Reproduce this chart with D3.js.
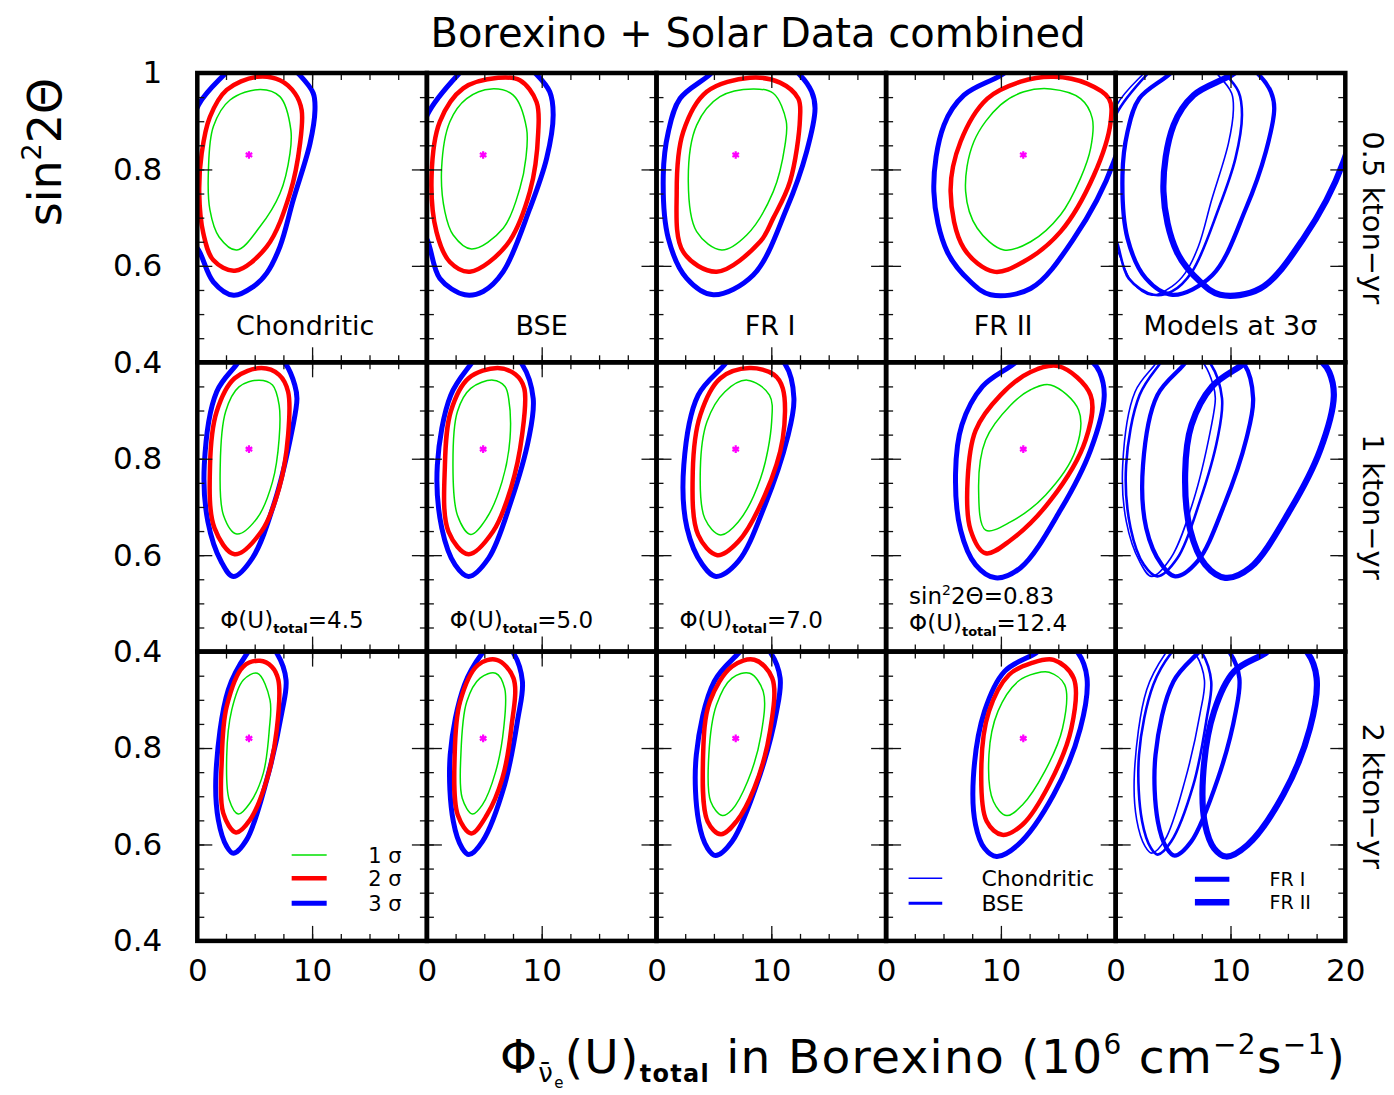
<!DOCTYPE html>
<html><head><meta charset="utf-8">
<script src="https://cdn.jsdelivr.net/npm/d3@7"></script>
<style>body{margin:0;background:#fff} svg{display:block} text{font-family:"DejaVu Sans",sans-serif;fill:#000}</style>
</head><body><svg id="c" width="1394" height="1095"></svg>
<script>
// ---------------- data ----------------
const models = ["Chondritic","BSE","FR I","FR II"];
const exposures = ["0.5 kton\u2212yr","1 kton\u2212yr","2 kton\u2212yr"];
const fluxTotal = ["4.5","5.0","7.0","12.4"];
const bestSin2 = "0.83";
const sigmaLabels = ["1 \u03c3","2 \u03c3","3 \u03c3"];
const xTickLabels = [0,10,20];
const yTickLabels = [0.4,0.6,0.8,1];
const bestFitX = [4.5,4.9,6.9,11.95];
const bestFitY = [0.83,0.82,0.82];

// contours [flux, sin^2 2theta] for Chondritic, BSE, FR I, FR II
const sigma1_05 = [
 [[5.5,0.966],[7.2,0.951],[8.15,0.882],[8.07,0.833],[7.2,0.75],[5.45,0.681],[3.45,0.633],[1.9,0.66],[1.1,0.716],[0.97,0.799],[1.4,0.889],[2.85,0.944]],
 [[5.63,0.967],[7.52,0.954],[8.68,0.885],[8.62,0.823],[8.1,0.761],[6.65,0.678],[3.89,0.635],[2.29,0.664],[1.57,0.712],[1.28,0.802],[2.0,0.899],[3.46,0.947]],
 [[8.43,0.967],[10.17,0.958],[11.3,0.9],[11.19,0.85],[10.17,0.754],[7.86,0.664],[5.68,0.633],[3.5,0.671],[2.77,0.775],[3.5,0.892],[5.53,0.951]],
 [[14.33,0.967],[16.94,0.947],[17.96,0.906],[17.82,0.844],[16.94,0.782],[15.2,0.706],[12.59,0.65],[10.26,0.633],[7.94,0.678],[6.93,0.754],[7.65,0.858],[9.97,0.934],[12.0,0.961]]
];
const sigma2_05 = [
 [[5.17,0.992],[7.2,0.985],[8.5,0.958],[9.09,0.923],[8.95,0.854],[8.08,0.751],[6.05,0.64],[3.28,0.59],[1.39,0.612],[0.52,0.668],[0.17,0.75],[0.38,0.833],[1.1,0.909],[2.56,0.965]],
 [[6.21,0.99],[8.1,0.985],[9.55,0.94],[9.7,0.878],[8.97,0.754],[6.94,0.643],[3.75,0.588],[2.0,0.608],[0.84,0.67],[0.41,0.788],[1.13,0.899],[3.16,0.968]],
 [[8.14,0.99],[10.76,0.98],[12.35,0.947],[12.5,0.906],[11.63,0.775],[10.17,0.699],[9.02,0.65],[5.24,0.588],[2.33,0.629],[1.76,0.754],[2.33,0.878],[4.37,0.961]],
 [[14.62,0.992],[17.5,0.978],[19.41,0.947],[19.56,0.899],[18.1,0.788],[15.2,0.671],[12.0,0.609],[9.39,0.588],[6.78,0.636],[5.62,0.754],[6.49,0.858],[8.82,0.947],[11.72,0.982]]
];
const sigma3_05 = [
 [[2.44,0.999],[0.11,0.934],[-1.0,0.84],[-1.3,0.75],[-0.8,0.66],[0.11,0.633],[1.39,0.567],[3.16,0.539],[4.88,0.557],[6.05,0.585],[7.2,0.64],[8.36,0.737],[9.82,0.854],[10.25,0.923],[10.1,0.958],[8.95,0.995],[6.5,1.045],[4.5,1.045]],
 [[2.73,0.997],[0.03,0.913],[-0.9,0.82],[-1.1,0.74],[-0.5,0.67],[0.03,0.654],[1.13,0.574],[3.31,0.54],[4.9,0.547],[6.65,0.588],[8.97,0.719],[10.43,0.823],[11.0,0.913],[10.7,0.961],[9.55,0.997],[7.0,1.045],[5.0,1.045]],
 [[4.66,0.997],[2.05,0.947],[1.03,0.878],[0.59,0.788],[1.03,0.657],[2.63,0.574],[4.95,0.54],[8.43,0.581],[11.34,0.719],[13.08,0.837],[13.81,0.927],[13.52,0.961],[12.5,0.996],[9.5,1.05],[6.5,1.04]],
 [[10.12,0.997],[6.78,0.954],[5.04,0.892],[4.16,0.754],[5.33,0.629],[7.36,0.567],[9.1,0.54],[12.59,0.553],[16.36,0.657],[19.84,0.816],[21.0,0.94],[20.0,1.01],[16.0,1.06],[12.5,1.04]]
];
const sigma1_1 = [
 [[5.38,0.963],[6.55,0.953],[7.13,0.911],[7.13,0.842],[6.55,0.752],[5.19,0.676],[3.44,0.644],[2.28,0.683],[2.0,0.787],[2.47,0.898],[3.63,0.949]],
 [[5.76,0.963],[6.8,0.95],[7.12,0.925],[7.24,0.842],[6.54,0.752],[5.18,0.676],[3.82,0.643],[2.66,0.683],[2.27,0.787],[2.66,0.898],[3.82,0.946]],
 [[7.9,0.963],[9.84,0.932],[10.03,0.877],[9.06,0.759],[7.12,0.669],[5.57,0.642],[4.21,0.676],[3.82,0.78],[4.4,0.877],[5.96,0.939]],
 [[14.33,0.953],[16.77,0.901],[16.51,0.818],[13.9,0.725],[10.84,0.669],[8.67,0.652],[8.06,0.735],[8.67,0.839],[10.84,0.911],[12.59,0.943]]
];
const sigma2_1 = [
 [[5.58,0.988],[7.13,0.974],[7.91,0.939],[7.91,0.849],[7.13,0.739],[5.58,0.649],[3.25,0.602],[1.5,0.656],[1.11,0.787],[1.69,0.898],[3.25,0.967]],
 [[6.15,0.988],[7.7,0.975],[8.48,0.946],[8.29,0.849],[7.32,0.739],[5.76,0.649],[3.63,0.602],[1.88,0.649],[1.57,0.787],[2.08,0.898],[3.63,0.967]],
 [[8.09,0.988],[10.2,0.975],[11.0,0.946],[11.0,0.842],[9.45,0.725],[7.12,0.628],[5.3,0.6],[3.63,0.642],[3.16,0.773],[3.82,0.891],[5.57,0.967]],
 [[15.03,0.992],[17.81,0.932],[17.38,0.839],[14.33,0.714],[10.84,0.631],[8.67,0.604],[7.36,0.652],[7.1,0.756],[7.8,0.859],[9.97,0.932],[12.59,0.98]]
];
const sigma3_1 = [
 [[3.44,0.996],[1.69,0.939],[0.61,0.787],[0.92,0.67],[2.08,0.587],[3.13,0.556],[4.8,0.594],[6.74,0.711],[8.29,0.863],[8.68,0.925],[8.49,0.953],[7.71,0.996],[6.0,1.035],[4.5,1.03]],
 [[3.82,0.996],[2.08,0.932],[0.91,0.787],[1.3,0.656],[2.46,0.58],[3.63,0.556],[5.38,0.594],[7.32,0.711],[8.87,0.842],[9.26,0.925],[8.29,0.996],[6.5,1.035],[5.0,1.03]],
 [[5.96,0.996],[3.63,0.932],[2.38,0.787],[2.66,0.656],[4.01,0.58],[5.18,0.556],[7.12,0.587],[9.45,0.704],[11.39,0.842],[11.97,0.925],[11.2,0.996],[9.0,1.035],[7.0,1.03]],
 [[11.3,1.0],[8.4,0.95],[6.6,0.87],[6.05,0.77],[6.49,0.652],[7.8,0.58],[9.54,0.553],[11.72,0.574],[15.2,0.694],[17.81,0.818],[19.0,0.93],[18.6,0.98],[18.0,1.0],[15.0,1.05],[13.0,1.04]]
];
const sigma1_2 = [
 [[5.23,0.955],[6.33,0.9],[6.27,0.838],[5.75,0.748],[4.59,0.686],[3.57,0.663],[2.79,0.692],[2.56,0.782],[3.0,0.879],[4.01,0.941]],
 [[5.99,0.955],[6.77,0.924],[6.69,0.841],[5.99,0.751],[4.83,0.682],[3.97,0.663],[3.08,0.696],[2.96,0.786],[3.47,0.896],[4.63,0.945]],
 [[8.13,0.955],[9.3,0.917],[9.1,0.827],[7.94,0.731],[6.58,0.672],[5.73,0.66],[4.72,0.689],[4.56,0.786],[5.22,0.889],[6.58,0.945]],
 [[14.2,0.957],[15.56,0.931],[15.37,0.841],[13.81,0.751],[11.87,0.682],[10.51,0.66],[9.35,0.689],[8.96,0.786],[9.74,0.876],[11.48,0.938],[13.04,0.955]]
];
const sigma2_2 = [
 [[5.46,0.981],[6.48,0.969],[7.06,0.941],[6.92,0.838],[6.05,0.734],[4.59,0.651],[3.37,0.625],[2.26,0.665],[2.13,0.775],[2.56,0.886],[4.01,0.969]],
 [[6.07,0.983],[7.54,0.945],[7.35,0.841],[6.57,0.737],[5.22,0.661],[3.86,0.623],[2.69,0.661],[2.42,0.786],[2.89,0.896],[4.44,0.972]],
 [[8.52,0.983],[10.08,0.945],[9.88,0.834],[8.52,0.717],[6.97,0.648],[5.61,0.621],[4.45,0.648],[4.06,0.786],[4.64,0.896],[6.58,0.969]],
 [[14.59,0.983],[16.34,0.945],[16.14,0.841],[14.2,0.724],[11.87,0.641],[10.12,0.62],[8.76,0.648],[8.3,0.765],[8.96,0.876],[10.71,0.952],[12.65,0.976]]
];
const sigma3_2 = [
 [[4.3,0.995],[2.7,0.921],[1.63,0.748],[1.83,0.651],[2.56,0.596],[3.14,0.582],[4.3,0.61],[6.05,0.734],[7.35,0.872],[7.73,0.941],[6.97,0.995],[5.6,1.03]],
 [[4.83,0.997],[3.27,0.931],[2.03,0.786],[2.3,0.648],[3.08,0.592],[3.66,0.579],[4.83,0.606],[6.77,0.724],[7.93,0.862],[8.32,0.938],[7.54,0.997],[6.2,1.03]],
 [[7.16,0.997],[5.03,0.938],[3.47,0.786],[3.67,0.648],[4.45,0.592],[5.14,0.577],[6.58,0.606],[8.91,0.737],[10.46,0.876],[10.77,0.945],[9.96,0.997],[8.5,1.03]],
 [[13.04,0.997],[10.32,0.959],[8.57,0.876],[7.6,0.738],[7.79,0.641],[8.57,0.592],[9.62,0.575],[11.48,0.599],[14.59,0.703],[16.92,0.841],[17.5,0.945],[16.73,0.997],[15.0,1.03]]
];
const contours = [
 [sigma1_05, sigma2_05, sigma3_05],
 [sigma1_1, sigma2_1, sigma3_1],
 [sigma1_2, sigma2_2, sigma3_2]
];

// ---------------- drawing ----------------
const svg = d3.select("#c");
const X0 = 197.3, Y0 = 73, W = 229.6, H = 289.3;
const x = d3.scaleLinear().domain([0,20]).range([0,W]);
const y = d3.scaleLinear().domain([0.4,1]).range([H,0]);
const line = d3.line().x(d=>x(d[0])).y(d=>y(d[1])).curve(d3.curveCatmullRomClosed.alpha(0.5));
const sigmaColor = ["#00e000","#ff0000","#0000ff"];
const sigmaWidth = [1.5,4.5,5];
const modelWidth = [1.6,2.6,4.3,6.2];
const FONT = '"DejaVu Sans", sans-serif';

svg.append("defs").append("clipPath").attr("id","clip")
  .append("rect").attr("width",W).attr("height",H);

function rich(sel, parts){
  let prev = 0;
  parts.forEach(([t,s,sh,w])=>{
    sel.append("tspan").attr("font-size",s).attr("dy",sh-prev)
      .attr("font-weight",w||"normal").text(t);
    prev = sh;
  });
}

const minorX = d3.range(0,20.001,2.5), majorX = [0,10,20];
const minorY = d3.range(0,13).map(i=>0.4+i*0.05), majorY = [0.4,0.6,0.8,1.0];

function drawTicks(g){
  const specs = [
    [d3.axisBottom, `translate(0,${H})`, x, minorX, 7],
    [d3.axisBottom, `translate(0,${H})`, x, majorX, 15],
    [d3.axisTop, `translate(0,0)`, x, minorX, 7],
    [d3.axisTop, `translate(0,0)`, x, majorX, 15],
    [d3.axisLeft, `translate(0,0)`, y, minorY, 7],
    [d3.axisLeft, `translate(0,0)`, y, majorY, 15],
    [d3.axisRight, `translate(${W},0)`, y, minorY, 7],
    [d3.axisRight, `translate(${W},0)`, y, majorY, 15]
  ];
  specs.forEach(([ax,tr,sc,vals,len])=>{
    const a = g.append("g").attr("transform",tr)
      .call(ax(sc).tickValues(vals).tickSize(-len).tickFormat(""));
    a.select(".domain").remove();
    a.selectAll("line").attr("stroke","#111").attr("stroke-width",1.3);
  });
}

const labelCenters = [9.4,10,9.9,10.2,10];

for(let r=0;r<3;r++){
  for(let c=0;c<5;c++){
    const g = svg.append("g").attr("transform",`translate(${X0+c*W},${Y0+r*H})`);
    const pg = g.append("g").attr("clip-path","url(#clip)");
    if(c<4){
      for(let s=2;s>=0;s--){
        pg.append("path").attr("d",line(contours[r][s][c]))
          .attr("fill","none").attr("stroke",sigmaColor[s]).attr("stroke-width",sigmaWidth[s]);
      }
      const sym = d3.symbol().type(d3.symbolAsterisk || d3.symbolCross).size(40);
      pg.append("path").attr("d",sym())
        .attr("transform",`translate(${x(bestFitX[c])},${y(bestFitY[r])})`)
        .attr("fill","none").attr("stroke","#ff00ff").attr("stroke-width",2.2);
    } else {
      for(let m=0;m<4;m++){
        pg.append("path").attr("d",line(contours[r][2][m]))
          .attr("fill","none").attr("stroke","#0000ff").attr("stroke-width",modelWidth[m]);
      }
    }
    drawTicks(g);
    g.append("rect").attr("width",W).attr("height",H)
      .attr("fill","none").attr("stroke","#000").attr("stroke-width",4.5);

    // tick labels
    if(c===0){
      const vals = r===0 ? yTickLabels : yTickLabels.filter(v=>v<1);
      const a = g.append("g").call(d3.axisLeft(y).tickValues(vals).tickSize(0).tickPadding(35)
        .tickFormat(d=>d===1?"1":d3.format(".1f")(d)));
      a.select(".domain").remove();
      a.selectAll("text").attr("font-size",31).attr("font-family",FONT).attr("fill","#000");
    }
    if(r===2){
      const vals = c===4 ? xTickLabels : xTickLabels.filter(v=>v<20);
      const a = g.append("g").attr("transform",`translate(0,${H})`)
        .call(d3.axisBottom(x).tickValues(vals).tickSize(0).tickPadding(18));
      a.select(".domain").remove();
      a.selectAll("text").attr("font-size",31).attr("font-family",FONT).attr("fill","#000");
    }

    // panel texts
    if(r===0){
      const t = g.append("text").attr("x",x(labelCenters[c])).attr("y",y(0.457))
        .attr("text-anchor","middle").attr("font-size",27);
      t.text(c<4 ? models[c] : "Models at 3\u03c3");
    }
    if(r===1 && c<4){
      if(c===3){
        const t1 = g.append("text").attr("x",x(2.0)).attr("y",y(0.499)).attr("font-size",23);
        rich(t1,[["sin",23,0],["2",14,-9],["2\u0398="+bestSin2,23,0]]);
      }
      const t = g.append("text").attr("x",x(2.0)).attr("y",y(c===3?0.443:0.449)).attr("font-size",23);
      rich(t,[["\u03a6(U)",23,0],["total",13,5,"bold"],["="+fluxTotal[c],23,0]]);
    }
    if(r===2 && c===0){
      [0.578,0.53,0.478].forEach((yy,i)=>{
        g.append("line").attr("x1",x(8.22)).attr("x2",x(11.27)).attr("y1",y(yy)).attr("y2",y(yy))
          .attr("stroke",sigmaColor[i]).attr("stroke-width",sigmaWidth[i]);
        g.append("text").attr("x",x(17.8)).attr("y",y(yy)).attr("dy","0.36em")
          .attr("text-anchor","end").attr("font-size",21).text(sigmaLabels[i]);
      });
    }
    if(r===2 && c===3){
      [[0.53,0],[0.478,1]].forEach(([yy,m])=>{
        g.append("line").attr("x1",x(1.96)).attr("x2",x(4.89)).attr("y1",y(yy)).attr("y2",y(yy))
          .attr("stroke","#0000ff").attr("stroke-width",m===0?1.6:3);
        g.append("text").attr("x",x(8.3)).attr("y",y(yy)).attr("dy","0.36em")
          .attr("font-size",22).text(models[m]);
      });
    }
    if(r===2 && c===4){
      [[0.528,2],[0.48,3]].forEach(([yy,m])=>{
        g.append("line").attr("x1",x(6.9)).attr("x2",x(9.9)).attr("y1",y(yy)).attr("y2",y(yy))
          .attr("stroke","#0000ff").attr("stroke-width",m===2?5:6.5);
        g.append("text").attr("x",x(13.4)).attr("y",y(yy)).attr("dy","0.36em")
          .attr("font-size",19).text(models[m]);
      });
    }
  }
  // exposure label on right
  svg.append("text").attr("transform",`translate(1363,${Y0+r*H+H/2}) rotate(90)`)
    .attr("text-anchor","middle").attr("font-size",29).text(exposures[r]);
}

// title
svg.append("text").attr("x",758).attr("y",47).attr("text-anchor","middle")
  .attr("font-size",40).text("Borexino + Solar Data combined");

// y title
const yt = svg.append("text").attr("transform","translate(61,152) rotate(-90)")
  .attr("text-anchor","middle");
rich(yt,[["sin",46,0],["2",27,-20],["2\u0398",46,0]]);

// x title
const xt = svg.append("text").attr("x",500).attr("y",1073).attr("letter-spacing",1.3);
rich(xt,[["\u03a6",47,0],["\u03bd\u0304",26,9],["e",15,15],["(U)",47,0],["total",24,9,"bold"],
  [" in Borexino (10",47,0],["6",28,-19],[" cm",47,0],["\u22122",28,-19],["s",47,0],["\u22121",28,-19],[")",47,0]]);
</script></body></html>
